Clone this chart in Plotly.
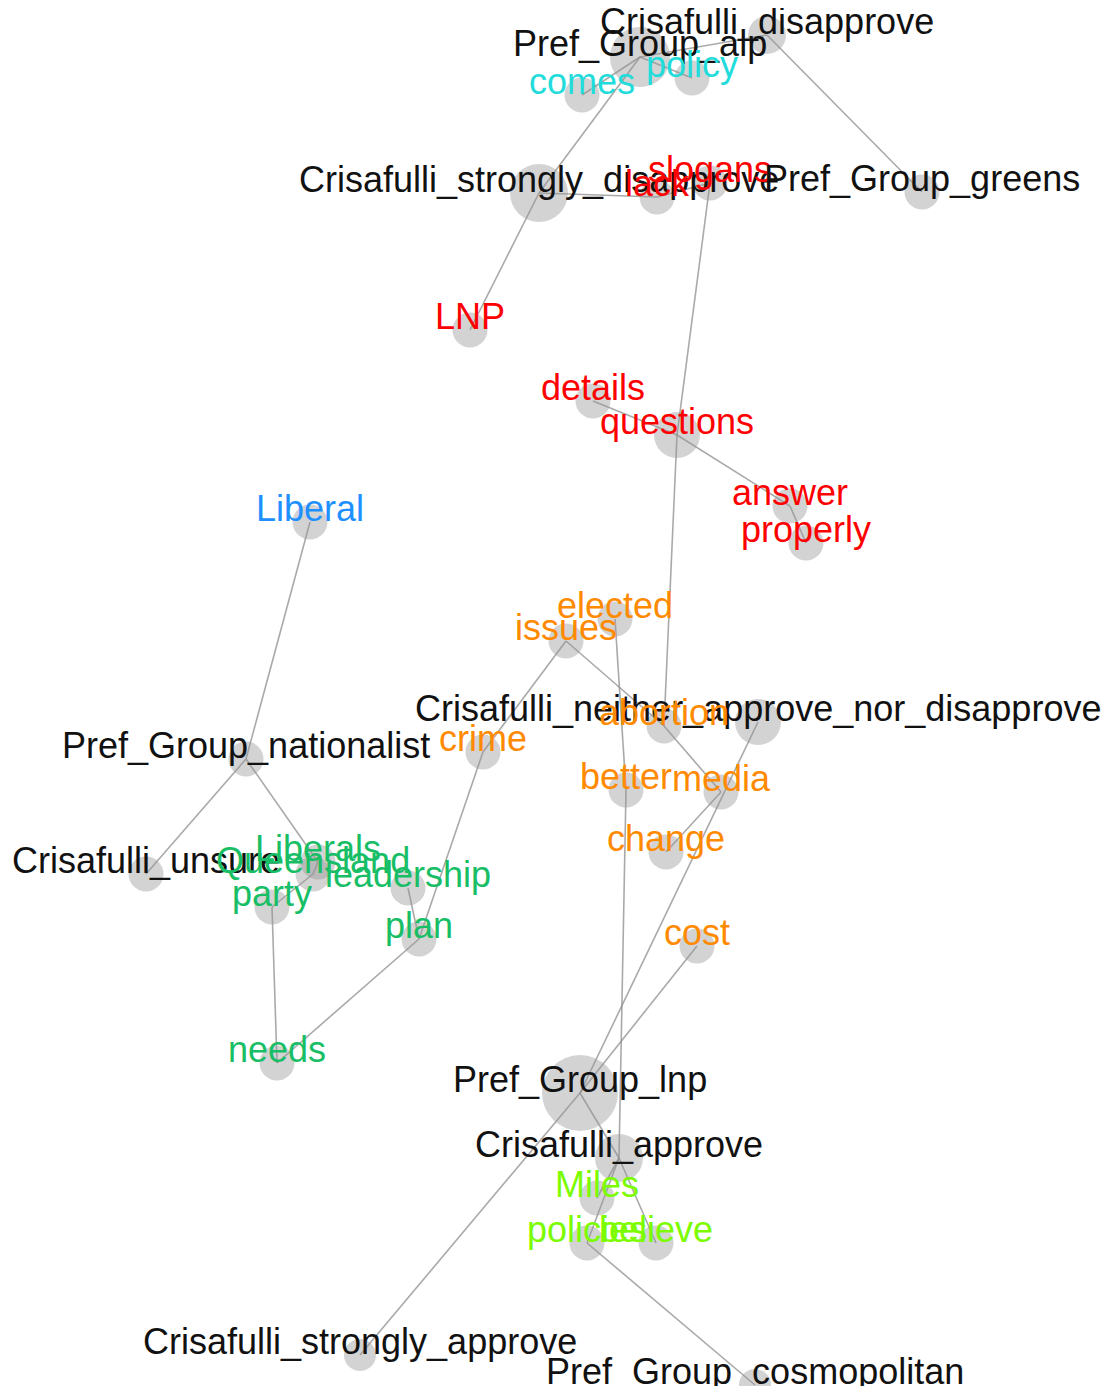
import plotly.graph_objects as go

# ---- data ----
node_names = [
    "Crisafulli_disapprove", "Pref_Group_alp", "comes", "policy",
    "Crisafulli_strongly_disapprove", "lack", "slogans", "Pref_Group_greens",
    "LNP", "details", "questions", "answer", "properly", "Liberal",
    "elected", "issues", "Crisafulli_neither_approve_nor_disapprove", "abortion",
    "Pref_Group_nationalist", "crime", "better", "media", "change",
    "Crisafulli_unsure", "Liberals", "Queensland", "leadership", "party", "plan",
    "cost", "needs", "Pref_Group_lnp", "Crisafulli_approve", "Miles", "policies",
    "believe", "Crisafulli_strongly_approve", "Pref_Group_cosmopolitan",
]
node_x = [767, 640, 582, 692, 539, 657, 710, 922, 470, 593, 677, 790, 806, 310,
          615, 566, 758, 664, 246, 483, 626, 721, 666, 146, 318, 313, 408, 272,
          419, 697, 277, 580, 619, 597, 587, 656, 360, 755]
node_y = [35, 57, 95, 78, 193, 197, 183, 192, 330, 401, 435, 506, 543, 522,
          619, 641, 722, 726, 759, 752, 790, 792, 852, 874, 862, 874, 888, 907,
          939, 946, 1063, 1093, 1158, 1198, 1243, 1243, 1355, 1385]
node_weight = [38, 60, 35, 35, 58, 35, 35, 35, 35, 35, 46, 35, 35, 35,
               35, 35, 46, 35, 35, 35, 35, 35, 35, 35, 35, 35, 35, 35,
               35, 35, 35, 76, 48, 35, 35, 35, 32, 32]
node_group = ["meta", "meta", "g1", "g1", "meta", "g2", "g2", "meta", "g2", "g2",
              "g2", "g2", "g2", "g3", "g4", "g4", "meta", "g4", "meta", "g4",
              "g4", "g4", "g4", "meta", "g5", "g5", "g5", "g5", "g5", "g4", "g5",
              "meta", "meta", "g6", "g6", "g6", "meta", "meta"]

edges = [
    ("Pref_Group_alp", "Crisafulli_disapprove"),
    ("Crisafulli_disapprove", "Pref_Group_greens"),
    ("Pref_Group_alp", "comes"),
    ("Pref_Group_alp", "policy"),
    ("Pref_Group_alp", "Crisafulli_strongly_disapprove"),
    ("Crisafulli_strongly_disapprove", "LNP"),
    ("Crisafulli_strongly_disapprove", "lack"),
    ("lack", "slogans"),
    ("slogans", "questions"),
    ("details", "questions"),
    ("questions", "answer"),
    ("answer", "properly"),
    ("questions", "abortion"),
    ("Liberal", "Pref_Group_nationalist"),
    ("Pref_Group_nationalist", "Crisafulli_unsure"),
    ("Pref_Group_nationalist", "Liberals"),
    ("Liberals", "Queensland"),
    ("Queensland", "party"),
    ("party", "needs"),
    ("needs", "plan"),
    ("leadership", "plan"),
    ("crime", "plan"),
    ("issues", "crime"),
    ("issues", "abortion"),
    ("abortion", "media"),
    ("media", "change"),
    ("elected", "better"),
    ("better", "Crisafulli_approve"),
    ("Crisafulli_neither_approve_nor_disapprove", "Pref_Group_lnp"),
    ("cost", "Pref_Group_lnp"),
    ("Pref_Group_lnp", "Crisafulli_strongly_approve"),
    ("Pref_Group_lnp", "Crisafulli_approve"),
    ("Crisafulli_approve", "believe"),
    ("Crisafulli_approve", "policies"),
    ("Crisafulli_approve", "Miles"),
    ("policies", "Pref_Group_cosmopolitan"),
]

group_colors = {
    "meta": "#111111",
    "g1": "#22DCDC",
    "g2": "#FF0000",
    "g3": "#1E90FF",
    "g4": "#FF8A00",
    "g5": "#18BE66",
    "g6": "#7CFC00",
}

# ---- figure ----
idx = {n: i for i, n in enumerate(node_names)}
ex, ey = [], []
for a, b in edges:
    ex += [node_x[idx[a]], node_x[idx[b]], None]
    ey += [node_y[idx[a]], node_y[idx[b]], None]

fig = go.Figure()
fig.add_trace(go.Scatter(x=ex, y=ey, mode="lines",
                         line=dict(color="rgba(140,140,140,0.75)", width=1.6),
                         hoverinfo="skip", showlegend=False))
fig.add_trace(go.Scatter(x=node_x, y=node_y, mode="markers",
                         marker=dict(size=node_weight, color="rgba(150,150,150,0.6)",
                                     line=dict(width=0)),
                         text=node_names, hoverinfo="text", showlegend=False))

for n, x, y, g in zip(node_names, node_x, node_y, node_group):
    fig.add_annotation(x=x, y=y, text=n, showarrow=False, xanchor="center",
                       yanchor="bottom", yshift=-9,
                       font=dict(family="Liberation Sans, Arial, sans-serif",
                                 size=36, color=group_colors[g]))

# page body has an 8px default margin; offset the axes so page pixels match
fig.update_layout(
    width=1099, height=1378,
    margin=dict(l=0, r=0, t=0, b=0),
    paper_bgcolor="white", plot_bgcolor="white",
    xaxis=dict(range=[8, 1107], visible=False, fixedrange=True),
    yaxis=dict(range=[1386, 8], visible=False, fixedrange=True),
)
fig.write_html("out.html")
